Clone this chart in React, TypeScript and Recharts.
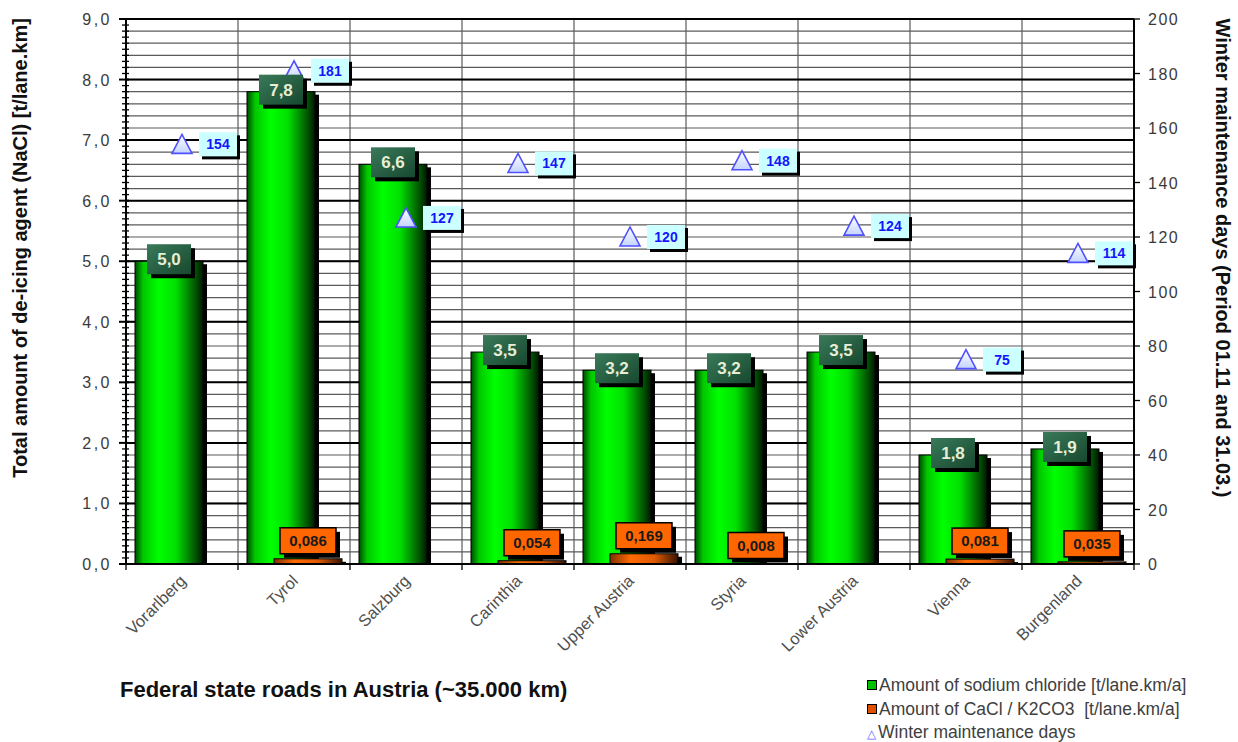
import { ComposedChart, Bar, Line, XAxis, YAxis, CartesianGrid, LabelList } from 'recharts';

const STATES = ['Vorarlberg', 'Tyrol', 'Salzburg', 'Carinthia', 'Upper Austria', 'Styria', 'Lower Austria', 'Vienna', 'Burgenland'];
const SODIUM_CHLORIDE = [5.0, 7.8, 6.6, 3.5, 3.2, 3.2, 3.5, 1.8, 1.9];
const CACL_K2CO3 = [0, 0.086, 0, 0.054, 0.169, 0.008, 0, 0.081, 0.035];
const WINTER_DAYS = [154, 181, 127, 147, 120, 148, 124, 75, 114];

const RIGHT_TICKS = [0, 20, 40, 60, 80, 100, 120, 140, 160, 180, 200];

// axis helpers: left axis marks every 0.1, minor grid every 0.2, bold grid every 1.0
const LEFT_MINOR = Array.from({ length: 91 }, (_, i) => i / 10);
const GRID_MINOR = Array.from({ length: 46 }, (_, i) => (i * 2) / 10);
const GRID_MAJOR = [1, 2, 3, 4, 5, 6, 7, 8];

const data = STATES.map((state, i) => ({
  state,
  nacl: SODIUM_CHLORIDE[i],
  cacl: CACL_K2CO3[i],
  days: WINTER_DAYS[i],
}));

const W = 1238;
const H = 742;
const LEFT_W = 126;
const RIGHT_W = 104;
const TOP = 19;
const X_AXIS_H = 178;
const PLOT_W = W - LEFT_W - RIGHT_W;
const HALF_BAND = PLOT_W / STATES.length / 2;

const FONT = 'Arial, "Liberation Sans", sans-serif';
const comma = (v: number, d: number) => v.toFixed(d).replace('.', ',');

function LeftTick({ x, y, payload }: any) {
  const v = payload.value as number;
  const major = Math.abs(v - Math.round(v)) < 1e-6;
  return (
    <g>
      <line x1={major ? x - 7 : x - 4} x2={x + 3} y1={y} y2={y} stroke="#000" strokeWidth={major ? 2 : 1.3} />
      {major && (
        <text
          x={x - 14}
          y={y}
          dy={6}
          textAnchor="end"
          fontFamily={FONT}
          fontSize={16}
          letterSpacing={2.5}
          fill="#3a3a3a"
        >
          {comma(v, 1)}
        </text>
      )}
    </g>
  );
}

function RightTick({ x, y, payload }: any) {
  return (
    <g>
      <line x1={x} x2={x + 6} y1={y} y2={y} stroke="#000" strokeWidth={1.3} />
      <text
        x={x + 14}
        y={y}
        dy={6}
        textAnchor="start"
        fontFamily={FONT}
        fontSize={16}
        letterSpacing={1.5}
        fill="#3a3a3a"
      >
        {payload.value}
      </text>
    </g>
  );
}

function StateTick({ x, y, payload, index }: any) {
  return (
    <g>
      <line x1={x - HALF_BAND} x2={x - HALF_BAND} y1={y} y2={y + 6} stroke="#000" strokeWidth={1.3} />
      {index === STATES.length - 1 && (
        <line x1={x + HALF_BAND} x2={x + HALF_BAND} y1={y} y2={y + 6} stroke="#000" strokeWidth={1.3} />
      )}
      <text
        transform={`translate(${x + 5},${y + 18}) rotate(-45)`}
        textAnchor="end"
        fontFamily={FONT}
        fontSize={16.5}
        fill="#505050"
      >
        {payload.value}
      </text>
    </g>
  );
}

function Cylinder({ x, y, width, height, grad }: any) {
  if (!height || height <= 0) return <g />;
  return (
    <g>
      <rect x={x + 4} y={y + 3} width={width} height={Math.max(height - 3, 0)} fill="#000" />
      <rect x={x} y={y} width={width} height={height} fill={`url(#${grad})`} stroke="#000" strokeWidth={1} />
    </g>
  );
}

function NaclLabel({ x, y, width, value }: any) {
  const cx = x + width / 2;
  const cy = y - 2;
  const bw = 44;
  const bh = 30;
  return (
    <g>
      <rect x={cx - bw / 2 + 4} y={cy - bh / 2 + 4} width={bw} height={bh} fill="#000" />
      <rect x={cx - bw / 2} y={cy - bh / 2} width={bw} height={bh} fill="url(#gradLabelGreen)" />
      <text x={cx} y={cy} dy={6} textAnchor="middle" fontFamily={FONT} fontWeight="bold" fontSize={17} fill="#e6eed6">
        {comma(value, 1)}
      </text>
    </g>
  );
}

function CaclLabel({ x, y, width, value }: any) {
  if (!value) return <g />;
  const cx = x + width / 2;
  const bw = 56;
  const bh = 26;
  const top = y - 5 - bh;
  return (
    <g>
      <rect x={cx - bw / 2 + 4} y={top + 4} width={bw} height={bh} fill="#000" />
      <rect x={cx - bw / 2} y={top} width={bw} height={bh} fill="#ff6600" stroke="#000" strokeWidth={1.5} />
      <text x={cx} y={top + bh / 2} dy={5} textAnchor="middle" fontFamily={FONT} fontWeight="bold" fontSize={15} fill="#1a1a1a">
        {comma(value, 3)}
      </text>
    </g>
  );
}

function Triangle({ cx, cy }: any) {
  return (
    <polygon
      points={`${cx},${cy - 10} ${cx - 10},${cy + 9} ${cx + 10},${cy + 9}`}
      fill="url(#gradTriangle)"
      stroke="#5050ff"
      strokeWidth={1.6}
    />
  );
}

function DaysLabel({ x, y, value }: any) {
  const left = x + 17;
  const bw = 38;
  const bh = 24;
  return (
    <g>
      <rect x={left + 3} y={y - bh / 2 + 3} width={bw} height={bh} fill="#000" />
      <rect x={left} y={y - bh / 2} width={bw} height={bh} fill="#ccffff" />
      <text x={left + bw / 2} y={y} dy={5} textAnchor="middle" fontFamily={FONT} fontWeight="bold" fontSize={14} fill="#1414ff">
        {value}
      </text>
    </g>
  );
}

function LegendKey({ color }: { color: string }) {
  return (
    <span
      style={{
        display: 'inline-block',
        width: 8,
        height: 8,
        border: '1px solid #000',
        background: color,
        marginRight: 2,
        verticalAlign: 'middle',
        position: 'relative',
        top: -1,
      }}
    />
  );
}

export default function App() {
  return (
    <div style={{ position: 'absolute', left: 0, top: 0, width: W, height: H, background: '#fff', fontFamily: FONT }}>
      <ComposedChart
        width={W}
        height={H}
        data={data}
        margin={{ top: TOP, right: 0, bottom: 0, left: 0 }}
        barGap={-41}
      >
        <defs>
          <linearGradient id="gradGreen" x1="0" y1="0" x2="1" y2="0">
            <stop offset="0%" stopColor="#004a00" />
            <stop offset="12%" stopColor="#00c800" />
            <stop offset="35%" stopColor="#00ff00" />
            <stop offset="60%" stopColor="#00e000" />
            <stop offset="85%" stopColor="#006800" />
            <stop offset="100%" stopColor="#001a00" />
          </linearGradient>
          <linearGradient id="gradOrange" x1="0" y1="0" x2="1" y2="0">
            <stop offset="0%" stopColor="#803000" />
            <stop offset="30%" stopColor="#ff6a00" />
            <stop offset="65%" stopColor="#e05a00" />
            <stop offset="100%" stopColor="#3a1400" />
          </linearGradient>
          <linearGradient id="gradLabelGreen" x1="0" y1="0" x2="1" y2="1">
            <stop offset="0%" stopColor="#3a7a5a" />
            <stop offset="100%" stopColor="#17482f" />
          </linearGradient>
          <linearGradient id="gradTriangle" x1="0" y1="0" x2="0" y2="1">
            <stop offset="0%" stopColor="#ffffff" />
            <stop offset="100%" stopColor="#c4d4ff" />
          </linearGradient>
        </defs>

        <XAxis
          dataKey="state"
          height={X_AXIS_H}
          interval={0}
          tickLine={false}
          tickSize={0}
          tickMargin={0}
          axisLine={{ stroke: '#000', strokeWidth: 2 }}
          tick={<StateTick />}
        />
        <YAxis
          yAxisId="left"
          width={LEFT_W}
          domain={[0, 9]}
          ticks={LEFT_MINOR}
          interval={0}
          tickLine={false}
          tickSize={0}
          tickMargin={0}
          axisLine={{ stroke: '#000', strokeWidth: 2 }}
          tick={<LeftTick />}
        />
        <YAxis
          yAxisId="right"
          orientation="right"
          width={RIGHT_W}
          domain={[0, 200]}
          ticks={RIGHT_TICKS}
          interval={0}
          tickLine={false}
          tickSize={0}
          tickMargin={0}
          axisLine={{ stroke: '#000', strokeWidth: 2 }}
          tick={<RightTick />}
        />
        {/* hidden scales that only feed the two grid layers */}
        <YAxis yAxisId="gridMinor" hide width={0} domain={[0, 9]} ticks={GRID_MINOR} interval={0} allowDataOverflow />
        <YAxis yAxisId="gridMajor" hide width={0} domain={[0, 9]} ticks={GRID_MAJOR} interval={0} allowDataOverflow />

        <CartesianGrid
          yAxisId="gridMinor"
          stroke="#5a5a5a"
          strokeWidth={1.2}
          vertical
          verticalCoordinatesGenerator={({ offset }: any) =>
            STATES.map((_, i) => offset.left + (i * offset.width) / STATES.length).slice(1)
          }
        />
        <CartesianGrid yAxisId="gridMajor" stroke="#000" strokeWidth={2} vertical={false} />

        <Bar
          yAxisId="left"
          dataKey="nacl"
          name="Amount of sodium chloride [t/lane.km/a]"
          barSize={68}
          fill="#00ff00"
          isAnimationActive={false}
          shape={(p: any) => <Cylinder {...p} grad="gradGreen" />}
        >
          <LabelList dataKey="nacl" content={<NaclLabel />} />
        </Bar>
        <Bar
          yAxisId="left"
          dataKey="cacl"
          name="Amount of CaCl / K2CO3  [t/lane.km/a]"
          barSize={68}
          fill="#ff6600"
          isAnimationActive={false}
          shape={(p: any) => <Cylinder {...p} grad="gradOrange" />}
        >
          <LabelList dataKey="cacl" content={<CaclLabel />} />
        </Bar>
        <Line
          yAxisId="right"
          dataKey="days"
          name="Winter maintenance days"
          stroke="none"
          isAnimationActive={false}
          activeDot={false}
          dot={(p: any) => <Triangle key={`tri-${p.index}`} {...p} />}
        >
          <LabelList dataKey="days" content={<DaysLabel />} />
        </Line>
      </ComposedChart>

      <svg width={W} height={H} style={{ position: 'absolute', left: 0, top: 0, pointerEvents: 'none' }}>
        <text
          transform="translate(27,248) rotate(-90)"
          textAnchor="middle"
          fontFamily={FONT}
          fontWeight="bold"
          fontSize={20}
          fill="#111"
        >
          Total amount of de-icing agent (NaCl) [t/lane.km]
        </text>
        <text
          transform="translate(1216,258) rotate(90)"
          textAnchor="middle"
          fontFamily={FONT}
          fontWeight="bold"
          fontSize={20}
          fill="#111"
        >
          Winter maintenance days (Period 01.11 and 31.03.)
        </text>
        <text x={120} y={697} fontFamily={FONT} fontWeight="bold" fontSize={22} fill="#111">
          Federal state roads in Austria (~35.000 km)
        </text>
      </svg>

      <div style={{ position: 'absolute', left: 867, top: 674, fontSize: 17.5, color: '#404040', lineHeight: '23.5px' }}>
        <div>
          <LegendKey color="#00c000" />
          Amount of sodium chloride [t/lane.km/a]
        </div>
        <div style={{ whiteSpace: 'pre' }}>
          <LegendKey color="#e05000" />
          {'Amount of CaCl / K2CO3  [t/lane.km/a]'}
        </div>
        <div>
          <span style={{ color: '#6a6aff', fontSize: 12, marginRight: 2 }}>△</span>
          Winter maintenance days
        </div>
      </div>
    </div>
  );
}
